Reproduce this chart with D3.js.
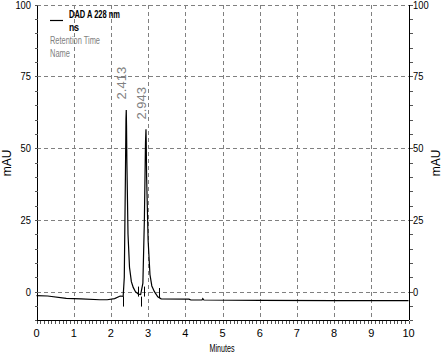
<!DOCTYPE html>
<html>
<head>
<meta charset="utf-8">
<script src="https://cdn.jsdelivr.net/npm/d3@7"></script>
<style>
  body { margin: 0; background: #fff; }
  svg { display: block; }
  .narrow { font-family: "Liberation Sans Narrow", "Arial Narrow", "Liberation Sans", Arial, sans-serif; }
</style>
</head>
<body>
<svg id="chart" width="444" height="355"></svg>
<script>
// chromatogram trace (minutes, mAU)
const traceTimes = [0, 0.3, 0.8, 1.2, 1.7, 1.9, 2.1, 2.25, 2.33, 2.36, 2.39, 2.405, 2.413, 2.42, 2.43, 2.46, 2.5, 2.55, 2.6, 2.66, 2.73, 2.8, 2.86, 2.9, 2.93, 2.943, 2.95, 2.96, 3.0, 3.05, 3.1, 3.17, 3.26, 3.35, 4.1, 4.15, 4.45, 4.47, 4.5, 6, 8, 10];
const traceValues = [-1.4, -1.5, -2.3, -2.5, -2.8, -2.8, -2.4, -1.5, -1.6, 5, 40, 60, 63.3, 58, 45, 20, 8.5, 3.5, 1.5, 0, -0.8, -1.0, 3, 25, 52, 56.6, 52, 40, 18, 6, 2, 0, -1.8, -2.5, -2.6, -2.9, -2.9, -2.4, -2.9, -3.0, -3.1, -3.1];

// peak start / end marks
const markTimes = [2.333, 2.737, 2.809, 2.898, 3.301];
const markLevels = [-1.7, -1.7, -1.7, -1.7, -2.2];
const markDirs = [-1, 1, -1, 1, 1];

// peak labels
const peakTimes = [2.413, 2.943];
const peakLabels = ["2.413", "2.943"];
const peakLabelLevels = [67, 60];

const xTicks = [0, 1, 2, 3, 4, 5, 6, 7, 8, 9, 10];
const yTicks = [0, 25, 50, 75, 100];
const yGrid = [0, 25, 50, 75, 100];

const svg = d3.select("#chart");
const x = d3.scaleLinear().domain([0, 10]).range([36.5, 408.5]);
const y = d3.scaleLinear().domain([-10, 100]).range([320.4, 4.7]);

const grid = svg.append("g")
    .attr("stroke", "#808080")
    .attr("stroke-width", 1)
    .attr("stroke-dasharray", "4,3")
    .attr("shape-rendering", "crispEdges");

grid.selectAll(".vg")
    .data(xTicks.slice(1, -1))
    .join("line")
    .attr("x1", d => Math.round(x(d)) + 0.5).attr("x2", d => Math.round(x(d)) + 0.5)
    .attr("y1", y(100)).attr("y2", y(-10));

grid.selectAll(".hg")
    .data(yGrid)
    .join("line")
    .attr("x1", x(0)).attr("x2", x(10))
    .attr("y1", d => Math.round(y(d)) + 0.5).attr("y2", d => Math.round(y(d)) + 0.5);

// axes
const yMinor = d3.range(-10, 101, 5);
const xMinor = d3.range(0, 100.5, 1).map(d => d / 10);

const left = svg.append("g")
    .attr("transform", `translate(${Math.round(x(0)) + 0.5},0)`)
    .call(d3.axisLeft(y).tickValues(yMinor).tickSize(3).tickFormat(""));
const right = svg.append("g")
    .attr("transform", `translate(${Math.round(x(10)) + 0.5},0)`)
    .call(d3.axisRight(y).tickValues(yMinor).tickSize(3).tickFormat(""));
const bottom = svg.append("g")
    .attr("transform", `translate(0,${Math.round(y(-10)) + 0.5})`)
    .call(d3.axisBottom(x).tickValues(xMinor).tickSize(3).tickFormat(""));

[left, right, bottom].forEach(a => {
    a.select(".domain").attr("stroke", "#000").attr("shape-rendering", "crispEdges");
    a.selectAll(".tick line").attr("stroke", "#555").attr("shape-rendering", "crispEdges");
});
left.select(".domain").attr("d", `M0,${y(-10)}V${y(100)}`);
right.select(".domain").attr("d", `M0,${y(-10)}V${y(100)}`);
bottom.select(".domain").attr("d", `M${x(0)},0H${x(10)}`);

// tick labels
svg.append("g").attr("class", "narrow")
    .selectAll("text").data(yTicks).join("text")
    .attr("x", 31).attr("y", d => y(d) + 4)
    .attr("text-anchor", "end").attr("font-size", 11)
    .attr("textLength", d => String(d).length * 5.2).attr("lengthAdjust", "spacingAndGlyphs")
    .text(d => d);

svg.append("g").attr("class", "narrow")
    .selectAll("text").data(yTicks).join("text")
    .attr("x", 413).attr("y", d => y(d) + 4)
    .attr("text-anchor", "start").attr("font-size", 11)
    .attr("textLength", d => String(d).length * 5.2).attr("lengthAdjust", "spacingAndGlyphs")
    .text(d => d);

svg.append("g").attr("class", "narrow")
    .selectAll("text").data(xTicks).join("text")
    .attr("x", d => x(d)).attr("y", 337)
    .attr("text-anchor", "middle").attr("font-size", 11)
    .text(d => d);

svg.append("text").attr("class", "narrow")
    .attr("x", 222).attr("y", 352)
    .attr("text-anchor", "middle").attr("font-size", 11)
    .attr("textLength", 25).attr("lengthAdjust", "spacingAndGlyphs")
    .text("Minutes");

svg.append("text")
    .attr("transform", "translate(11,163) rotate(-90)")
    .attr("text-anchor", "middle").attr("font-size", 12)
    .attr("font-family", "Liberation Sans, Arial, sans-serif")
    .text("mAU");
svg.append("text")
    .attr("transform", "translate(440,163) rotate(-90)")
    .attr("text-anchor", "middle").attr("font-size", 12)
    .attr("font-family", "Liberation Sans, Arial, sans-serif")
    .text("mAU");

// trace
const trace = traceTimes.map((t, i) => [t, traceValues[i]]);
svg.append("path")
    .datum(trace)
    .attr("fill", "none")
    .attr("stroke", "#000")
    .attr("stroke-width", 1.2)
    .attr("d", d3.line().x(d => x(d[0])).y(d => y(d[1])));

// peak marks
svg.append("g").selectAll("line")
    .data(markTimes.map((t, i) => ({ t, v: markLevels[i], dir: markDirs[i] })))
    .join("line")
    .attr("x1", d => Math.round(x(d.t)) + 0.5).attr("x2", d => Math.round(x(d.t)) + 0.5)
    .attr("y1", d => y(d.v)).attr("y2", d => y(d.v) - d.dir * 10)
    .attr("stroke", "#000").attr("stroke-width", 1);

// peak labels
svg.append("g").selectAll("text")
    .data(peakTimes.map((t, i) => ({ t, label: peakLabels[i], v: peakLabelLevels[i] })))
    .join("text")
    .attr("transform", d => `translate(${x(d.t) + 0},${y(d.v)}) rotate(-90)`)
    .attr("font-size", 13).attr("fill", "#808080")
    .attr("font-family", "Liberation Sans, Arial, sans-serif")
    .text(d => d.label);

// legend
const legend = svg.append("g").attr("class", "narrow");
legend.append("line")
    .attr("x1", 50).attr("x2", 63).attr("y1", 20.5).attr("y2", 20.5)
    .attr("stroke", "#000").attr("stroke-width", 1.2);
legend.append("text")
    .attr("x", 69).attr("y", 18).attr("font-size", 11).attr("font-weight", "bold")
    .attr("textLength", 51).attr("lengthAdjust", "spacingAndGlyphs")
    .text("DAD A 228 nm");
legend.append("text")
    .attr("x", 69).attr("y", 31).attr("font-size", 11).attr("font-weight", "bold")
    .attr("textLength", 10).attr("lengthAdjust", "spacingAndGlyphs")
    .text("ns");
legend.append("text")
    .attr("x", 50).attr("y", 44).attr("font-size", 11).attr("fill", "#808080")
    .attr("textLength", 50).attr("lengthAdjust", "spacingAndGlyphs")
    .text("Retention Time");
legend.append("text")
    .attr("x", 50).attr("y", 57).attr("font-size", 11).attr("fill", "#808080")
    .attr("textLength", 20).attr("lengthAdjust", "spacingAndGlyphs")
    .text("Name");
</script>
</body>
</html>
